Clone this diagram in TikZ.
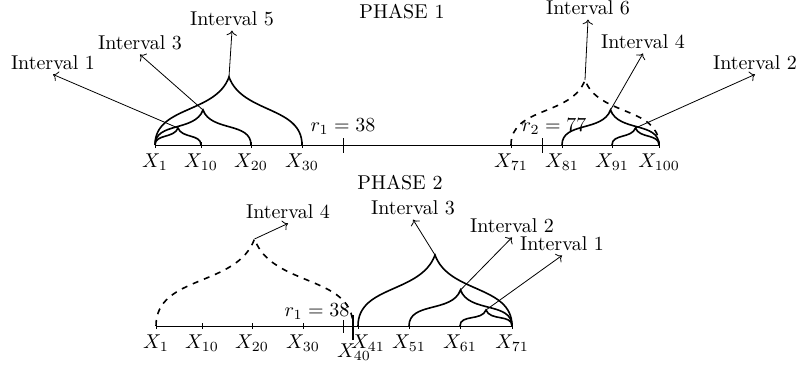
\documentclass[tikz,border=0pt]{standalone}
\usepackage{amsmath}
\usepackage{tikz}
\usetikzlibrary{calc, positioning, arrows.meta}

\begin{document}
\begin{tikzpicture}[x=0.5pt, y=0.5pt,
      seg/.style ={thick},
      segd/.style={thick, dashed},
      rise/.style={out=90, in=-110},
      fall/.style={out=-70, in=90},
      ptr/.style ={->, thin},
      lbl/.style ={inner sep=2pt},
      xlab/.style={below=2pt, inner sep=2pt}
    ]
    \useasboundingbox (0,0) rectangle (803,365);

    % Phase 1: points on the axis
    \node (t1) at (402,353) {PHASE 1};
    \coordinate (a1)   at (155,220);
    \coordinate (a10)  at (201,220);
    \coordinate (a20)  at (251,220);
    \coordinate (a30)  at (302,220);
    \coordinate (r1)   at (343,220);
    \coordinate (a71)  at (511,220);
    \coordinate (r2)   at (542,220);
    \coordinate (a81)  at (562,220);
    \coordinate (a91)  at (612,220);
    \coordinate (a100) at (659,220);

    \draw (a1) -- (a100);
    \foreach \p in {a1,a10,a20,a30,a71,a81,a91,a100}
      \draw ([yshift=-1.5pt]\p) -- ([yshift=1.5pt]\p);
    \draw ([yshift=-3.75pt]r1) -- ([yshift=3.75pt]r1);
    \draw ([yshift=-3.75pt]r2) -- ([yshift=3.75pt]r2);

    \node[xlab] at (a1)   {$X_1$};
    \node[xlab] at (a10)  {$X_{10}$};
    \node[xlab] at (a20)  {$X_{20}$};
    \node[xlab] at (a30)  {$X_{30}$};
    \node[xlab] at (a71)  {$X_{71}$};
    \node[xlab] at (a81)  {$X_{81}$};
    \node[xlab] at (a91)  {$X_{91}$};
    \node[xlab] at (a100) {$X_{100}$};
    \node (lr1) at (343,238) {$r_1=38$};
    \node (lr2) at (554,238) {$r_2=77$};

    % Phase 1: intervals
    \coordinate (k1) at (178,237);
    \coordinate (k3) at (203,255);
    \coordinate (k5) at (229,288);
    \coordinate (k6) at (585,285);
    \coordinate (k4) at (610.5,255);
    \coordinate (k2) at (635.5,237);

    \draw[seg]  (a1)  to[rise] (k1) to[fall] (a10);
    \draw[seg]  (a1)  to[rise] (k3) to[fall] (a20);
    \draw[seg]  (a1)  to[rise] (k5) to[fall] (a30);
    \draw[segd] (a71) to[rise] (k6) to[fall] (a100);
    \draw[seg]  (a81) to[rise] (k4) to[fall] (a100);
    \draw[seg]  (a91) to[rise] (k2) to[fall] (a100);

    \node[lbl] (i1) at (53,302)  {Interval 1};
    \node[lbl] (i3) at (140,322) {Interval 3};
    \node[lbl] (i5) at (232,346) {Interval 5};
    \node[lbl] (i6) at (588,357) {Interval 6};
    \node[lbl] (i4) at (643,323) {Interval 4};
    \node[lbl] (i2) at (755,302) {Interval 2};

    \draw[ptr] (k1) -- (i1.south);
    \draw[ptr] (k3) -- (i3.south);
    \draw[ptr] (k5) -- (i5.south);
    \draw[ptr] (k6) -- (i6.south);
    \draw[ptr] (k4) -- (i4.south);
    \draw[ptr] (k2) -- (i2.south);

    % Phase 2: points on the axis
    \node (t2) at (400,182) {PHASE 2};
    \coordinate (b1)  at (156,39);
    \coordinate (b10) at (202,39);
    \coordinate (b20) at (252,39);
    \coordinate (b30) at (303,39);
    \coordinate (s1)  at (343.5,39);
    \coordinate (b40) at (353,39);
    \coordinate (b41) at (358,39);
    \coordinate (b51) at (409,39);
    \coordinate (b61) at (460,39);
    \coordinate (b71) at (512,39);

    \draw (b1) -- (b71);
    \foreach \p in {b1,b10,b20,b30,b41,b51,b61,b71}
      \draw ([yshift=-1.5pt]\p) -- ([yshift=1.5pt]\p);
    \draw ([yshift=-3.25pt]s1) -- ([yshift=3.25pt]s1);
    \draw[thick] ([yshift=-7pt]b40) -- ([yshift=5.5pt]b40);

    \node[xlab] at (b1)  {$X_1$};
    \node[xlab] at (b10) {$X_{10}$};
    \node[xlab] at (b20) {$X_{20}$};
    \node[xlab] at (b30) {$X_{30}$};
    \node[xlab, xshift=5pt] at (b41) {$X_{41}$};
    \node[xlab] at (b51) {$X_{51}$};
    \node[xlab] at (b61) {$X_{61}$};
    \node[xlab] at (b71) {$X_{71}$};
    \node (l40) at (354,13) {$X_{40}$};
    \node (ls1) at (317,53) {$r_1=38$};

    % Phase 2: intervals
    \coordinate (q4) at (254.5,126);
    \coordinate (q3) at (435,110);
    \coordinate (q2) at (460.5,75);
    \coordinate (q1) at (486,55);

    \draw[segd] (b1)  to[rise] (q4) to[fall] (b40);
    \draw[seg]  (b41) to[rise] (q3) to[fall] (b71);
    \draw[seg]  (b51) to[rise] (q2) to[fall] (b71);
    \draw[seg]  (b61) to[rise] (q1) to[fall] (b71);

    \node[lbl] (j4) at (288,153) {Interval 4};
    \node[lbl] (j3) at (413,157) {Interval 3};
    \node[lbl] (j2) at (512,139) {Interval 2};
    \node[lbl] (j1) at (562,121) {Interval 1};

    \draw[ptr] (q4) -- (j4.south);
    \draw[ptr] (q3) -- (j3.south);
    \draw[ptr] (q2) -- (j2.south);
    \draw[ptr] (q1) -- (j1.south);
  \end{tikzpicture}
\end{document}
